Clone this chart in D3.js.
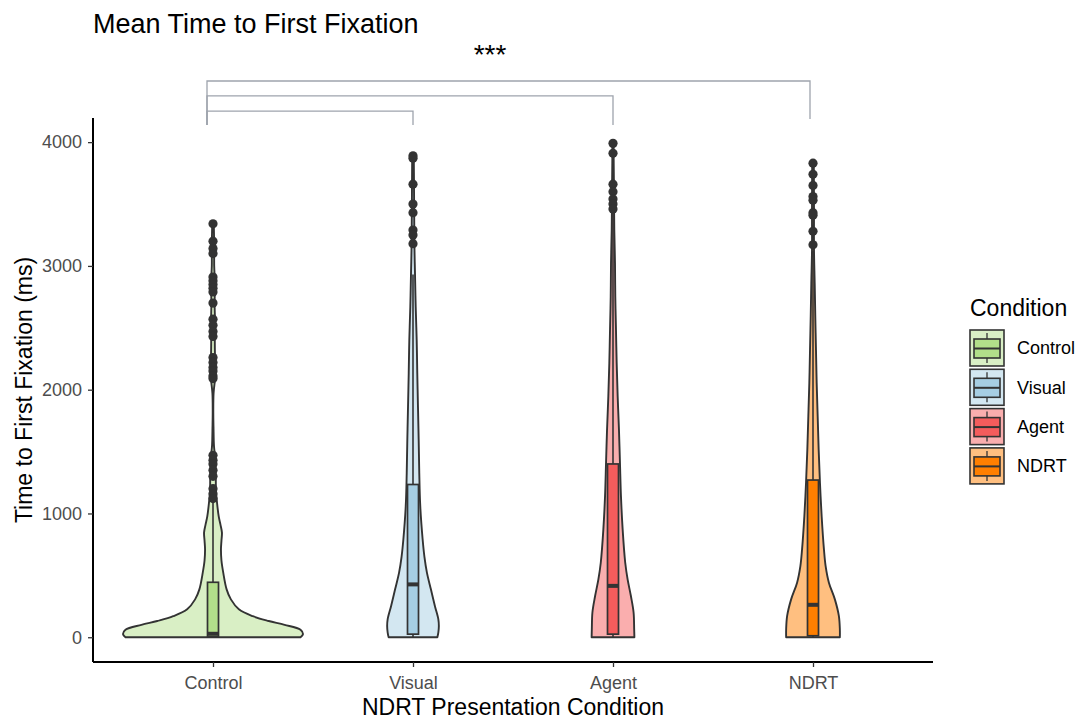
<!DOCTYPE html>
<html>
<head>
<meta charset="utf-8">
<script src="https://cdn.jsdelivr.net/npm/d3@7"></script>
<style>
  body { margin: 0; background: #ffffff; }
  svg { display: block; font-family: "Liberation Sans", Arial, sans-serif; }
</style>
</head>
<body>
<svg id="chart" width="1077" height="719"></svg>
<script>
// Conditions in plotting order
const categories = ["Control", "Visual", "Agent", "NDRT"];
const boxColors = ["#b2df8a", "#a6cee3", "#f45c5c", "#ff7f00"];

// Kernel density profiles: [time (ms), relative density]
const densControl = [[0, 88], [25, 90.5], [60, 88], [100, 72], [131, 56], [170, 40], [226, 26], [306, 18],
  [387, 13.7], [522, 10.3], [620, 8.5], [710, 8], [780, 8.5], [845, 9], [910, 7.5], [978, 5.7], [1113, 3.7],
  [1170, 3], [1300, 2.8], [1450, 2.2], [1543, 1], [1700, 0.5], [1812, 0.3], [1973, 0.6], [2080, 2],
  [2134, 2.5], [2266, 2], [2400, 1.8], [2550, 2], [2700, 1.6], [2850, 2], [3000, 1.2], [3150, 1.2], [3340, 0.8]];
const densVisual = [[0, 24.5], [40, 25.5], [90, 26], [145, 25.5], [253, 22], [387, 18], [522, 14], [650, 11.5],
  [790, 9.7], [1059, 7.3], [1328, 6.3], [1597, 5.7], [1866, 5], [2134, 4.3], [2403, 3.7], [2672, 2.7],
  [2940, 2], [3129, 1.5], [3400, 1.2], [3660, 1], [3895, 0.8]];
const densAgent = [[0, 21.5], [65, 21.3], [200, 20.7], [333, 18], [468, 14.7], [602, 12.3], [871, 9.7],
  [1140, 8], [1409, 7], [1677, 6], [1946, 4.7], [2215, 3.7], [2484, 3], [2753, 2.3], [3022, 2], [3290, 1.3],
  [3600, 1], [3830, 0.7], [3995, 0.6]];
const densNDRT = [[0, 27], [65, 27], [172, 26], [306, 22], [441, 16], [575, 12.7], [710, 11], [978, 8.7],
  [1247, 7], [1516, 5.7], [1785, 4.7], [2054, 3.7], [2323, 3], [2591, 2.3], [2860, 1.7], [3129, 1],
  [3450, 1], [3828, 0.8]];

// Box-plot statistics: [lower whisker, Q1, median, Q3, upper whisker]
const boxControl = [0, 5, 28, 444, 1100];
const boxVisual = [0, 25, 427, 1234, 2930];
const boxAgent = [0, 25, 415, 1400, 3440];
const boxNDRT = [0, 12, 262, 1270, 3120];

// Outlying observations (ms)
const outControl = [3340, 3200, 3140, 3100, 2910, 2880, 2850, 2820, 2790, 2700, 2570, 2520, 2470, 2430,
  2260, 2220, 2180, 2150, 2110, 2090, 1470, 1430, 1400, 1350, 1300, 1200, 1160, 1120];
const outVisual = [3890, 3870, 3660, 3500, 3430, 3290, 3250, 3180];
const outAgent = [3990, 3910, 3660, 3600, 3540, 3500, 3460];
const outNDRT = [3830, 3740, 3650, 3560, 3530, 3430, 3410, 3280, 3170];

// Axis ticks
const yTicks = [0, 1000, 2000, 3000, 4000];

// Significance brackets: start / end on the category axis, bar height and tip ends (ms)
const brackets = [
  { x0: 0.97, x1: 2, y: 4251, tip0: 4138, tip1: 4138 },
  { x0: 0.97, x1: 3, y: 4373, tip0: 4138, tip1: 4138 },
  { x0: 0.97, x1: 3.985, y: 4494, tip0: 4138, tip1: 4187 }
];
const sigLabel = { x: 2.385, y: 4744, text: "***" };

const series = categories.map((c, i) => ({
  name: c,
  pos: i + 1,
  color: boxColors[i],
  dens: [densControl, densVisual, densAgent, densNDRT][i],
  box: [boxControl, boxVisual, boxAgent, boxNDRT][i],
  out: [outControl, outVisual, outAgent, outNDRT][i]
}));

const svg = d3.select("#chart");
const panel = { left: 93, right: 933, top: 118, bottom: 662 };
const ink = "#333333";

const x = d3.scaleLinear().domain([0.4, 4.6]).range([panel.left, panel.right]);
const y = d3.scaleLinear().domain([-200, 4195]).range([panel.bottom, panel.top]);
const maxDens = d3.max(series, s => d3.max(s.dens, d => d[1]));
const w = d3.scaleLinear().domain([0, maxDens]).range([0, x(1.45) - x(1)]);
const boxHalf = x(1.0275) - x(1);

// half-transparent fill of each condition colour over white
const light = c => d3.interpolateRgb("#ffffff", c)(0.5);

// Violins, boxes and outliers
series.forEach(s => {
  const cx = x(s.pos);
  const g = svg.append("g");
  const area = d3.area()
    .y(d => y(d[0]))
    .x0(d => cx - w(d[1]))
    .x1(d => cx + w(d[1]))
    .curve(d3.curveCatmullRom);
  g.append("path")
    .attr("d", area(s.dens))
    .attr("fill", light(s.color))
    .attr("stroke", ink)
    .attr("stroke-width", 1.9)
    .attr("stroke-linejoin", "round");

  const [lo, q1, med, q3, hi] = s.box;
  g.append("line").attr("x1", cx).attr("x2", cx).attr("y1", y(q3)).attr("y2", y(hi))
    .attr("stroke", ink).attr("stroke-width", 1.6);
  g.append("line").attr("x1", cx).attr("x2", cx).attr("y1", y(lo)).attr("y2", y(q1))
    .attr("stroke", ink).attr("stroke-width", 1.6);
  g.append("rect")
    .attr("x", cx - boxHalf).attr("width", 2 * boxHalf)
    .attr("y", y(q3)).attr("height", y(q1) - y(q3))
    .attr("fill", s.color).attr("stroke", ink).attr("stroke-width", 1.7);
  g.append("line").attr("x1", cx - boxHalf).attr("x2", cx + boxHalf).attr("y1", y(med)).attr("y2", y(med))
    .attr("stroke", ink).attr("stroke-width", 4);

  g.selectAll("circle").data(s.out).join("circle")
    .attr("cx", cx).attr("cy", d => y(d)).attr("r", 4.6).attr("fill", ink);
});

// Axes
const yAxis = svg.append("g").attr("transform", `translate(${panel.left},0)`)
  .call(d3.axisLeft(y).tickValues(yTicks).tickSize(5).tickPadding(6).tickFormat(d3.format("d")));
const xAxis = svg.append("g").attr("transform", `translate(0,${panel.bottom})`)
  .call(d3.axisBottom(x).tickValues(series.map(s => s.pos)).tickSize(5).tickPadding(9)
    .tickFormat((d, i) => categories[i]));
[yAxis, xAxis].forEach(a => {
  a.select(".domain").attr("stroke", "#000").attr("stroke-width", 2);
  a.selectAll(".tick line").attr("stroke", ink).attr("stroke-width", 1.3);
  a.selectAll(".tick text").attr("fill", "#4d4d4d").attr("font-size", 18)
    .attr("font-family", "'Liberation Sans', Arial, sans-serif");
});
yAxis.select(".domain").attr("d", `M0,${panel.top}V${panel.bottom}`);
xAxis.select(".domain").attr("d", `M${panel.left},0H${panel.right}`);

// Axis titles and title
svg.append("text").attr("x", (panel.left + panel.right) / 2).attr("y", 715)
  .attr("text-anchor", "middle").attr("font-size", 23).attr("fill", "#000")
  .text("NDRT Presentation Condition");
svg.append("text").attr("transform", `translate(32,${(panel.top + panel.bottom) / 2}) rotate(-90)`)
  .attr("text-anchor", "middle").attr("font-size", 23).attr("fill", "#000")
  .text("Time to First Fixation (ms)");
svg.append("text").attr("x", 93).attr("y", 33).attr("font-size", 27).attr("fill", "#000")
  .text("Mean Time to First Fixation");

// Significance brackets
const bg = svg.append("g").attr("fill", "none").attr("stroke", "#9ea4ad").attr("stroke-width", 1.3);
brackets.forEach(b => {
  bg.append("path").attr("d",
    `M${x(b.x0)},${y(b.tip0)}V${y(b.y)}H${x(b.x1)}V${y(b.tip1)}`);
});
svg.append("text").attr("x", x(sigLabel.x)).attr("y", y(sigLabel.y)).attr("dy", "0.5em")
  .attr("text-anchor", "middle").attr("font-size", 28).attr("fill", "#000").text(sigLabel.text);

// Legend
const lg = svg.append("g").attr("transform", "translate(970,0)");
lg.append("text").attr("x", 0).attr("y", 316).attr("font-size", 23).attr("fill", "#000").text("Condition");
series.forEach((s, i) => {
  const top = 330 + i * 39.3;
  const k = lg.append("g").attr("transform", `translate(0,${top})`);
  k.append("rect").attr("x", 0).attr("y", 0).attr("width", 34).attr("height", 36)
    .attr("fill", light(s.color)).attr("stroke", ink).attr("stroke-width", 1.6);
  k.append("line").attr("x1", 17).attr("x2", 17).attr("y1", 3).attr("y2", 33)
    .attr("stroke", ink).attr("stroke-width", 1.3);
  k.append("rect").attr("x", 4).attr("y", 9).attr("width", 26).attr("height", 19)
    .attr("fill", s.color).attr("stroke", ink).attr("stroke-width", 1.6);
  k.append("line").attr("x1", 4).attr("x2", 30).attr("y1", 18.5).attr("y2", 18.5)
    .attr("stroke", ink).attr("stroke-width", 2);
  k.append("text").attr("x", 47).attr("y", 18).attr("dy", "0.35em").attr("font-size", 18)
    .attr("fill", "#000").text(s.name);
});
</script>
</body>
</html>
